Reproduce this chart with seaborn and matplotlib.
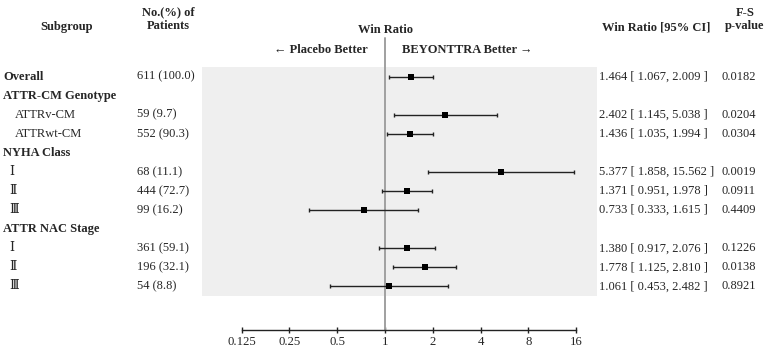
import numpy as np
import pandas as pd
import seaborn as sns
import matplotlib.pyplot as plt
import matplotlib.transforms as mtransforms

subgroups = ["Overall", "ATTR-CM Genotype", "ATTRv-CM", "ATTRwt-CM", "NYHA Class",
             "Ⅰ", "Ⅱ", "Ⅲ", "ATTR NAC Stage", "Ⅰ", "Ⅱ", "Ⅲ"]
is_header = [True, True, False, False, True, False, False, False, True, False, False, False]
patients = ["611 (100.0)", "", "59 (9.7)", "552 (90.3)", "", "68 (11.1)", "444 (72.7)",
            "99 (16.2)", "", "361 (59.1)", "196 (32.1)", "54 (8.8)"]
win_ratio = [1.464, np.nan, 2.402, 1.436, np.nan, 5.377, 1.371, 0.733, np.nan, 1.380, 1.778, 1.061]
ci_low = [1.067, np.nan, 1.145, 1.035, np.nan, 1.858, 0.951, 0.333, np.nan, 0.917, 1.125, 0.453]
ci_high = [2.009, np.nan, 5.038, 1.994, np.nan, 15.562, 1.978, 1.615, np.nan, 2.076, 2.810, 2.482]
p_values = ["0.0182", "", "0.0204", "0.0304", "", "0.0019", "0.0911", "0.4409", "",
            "0.1226", "0.0138", "0.8921"]
ticks = [0.125, 0.25, 0.5, 1, 2, 4, 8, 16]
tick_labels = ["0.125", "0.25", "0.5", "1", "2", "4", "8", "16"]

df = pd.DataFrame({"subgroup": subgroups, "wr": win_ratio, "lo": ci_low, "hi": ci_high,
                   "row": np.arange(len(subgroups))})
pts = df.dropna()

sns.set_style("white")
plt.rcParams["font.family"] = ["Liberation Serif", "DejaVu Serif"]
plt.rcParams["font.size"] = 9

W, H = 769, 352
fig = plt.figure(figsize=(W / 100, H / 100), dpi=100)
ax = fig.add_axes([202 / W, 1 - 296 / H, 395 / W, 229 / H])
ax.set_facecolor("#efefef")

ax.set_xscale("log", base=2)
ax.set_xlim(2 ** -3.828, 2 ** 4.435)
ax.set_ylim(11.5, -0.5)

ax.errorbar(pts["wr"], pts["row"], xerr=[pts["wr"] - pts["lo"], pts["hi"] - pts["wr"]],
            fmt="none", ecolor="#222222", elinewidth=1.0, capsize=1.7, capthick=1.0, zorder=3)
sns.scatterplot(data=pts, x="wr", y="row", marker="s", s=24, color="black",
                edgecolor="black", linewidth=0, ax=ax, zorder=4, legend=False)

# reference line at 1, running above and below the panel
ax.axvline(1, ymin=-34 / 229, ymax=1 + 29 / 229, color="#a0a0a0", lw=1.4,
           clip_on=False, zorder=2)

for s in ["top", "right", "left"]:
    ax.spines[s].set_visible(False)
ax.spines["bottom"].set_position(("outward", 24.5))
ax.spines["bottom"].set_bounds(0.125, 16)
ax.spines["bottom"].set_color("#222222")
ax.spines["bottom"].set_linewidth(1.0)
ax.set_xticks(ticks)
ax.set_xticklabels(tick_labels)
ax.minorticks_off()
ax.tick_params(axis="x", direction="inout", length=5, width=1.0, color="#222222",
               pad=1.5, labelsize=9.2, bottom=True)
ax.set_yticks([])
ax.set_xlabel("")
ax.set_ylabel("")

fx = lambda px: px / W
fy = lambda py: 1 - py / H
row_tr = mtransforms.blended_transform_factory(fig.transFigure, ax.transData)

for i, name in enumerate(subgroups):
    if is_header[i]:
        ax.text(fx(3), i, name, transform=row_tr, ha="left", va="center", fontweight="bold")
    else:
        x0 = 9 if name in ("Ⅰ", "Ⅱ", "Ⅲ") else 15
        ax.text(fx(x0), i, name, transform=row_tr, ha="left", va="center")
    if patients[i]:
        ax.text(fx(137), i, patients[i], transform=row_tr, ha="left", va="center")
    if not np.isnan(win_ratio[i]):
        ax.text(fx(599), i, f"{win_ratio[i]:.3f} [ {ci_low[i]:.3f}, {ci_high[i]:.3f} ]",
                transform=row_tr, ha="left", va="center")
        ax.text(fx(722), i, p_values[i], transform=row_tr, ha="left", va="center")

fig.text(fx(67), fy(27), "Subgroup", ha="center", va="center", fontweight="bold")
fig.text(fx(168), fy(19.5), "No.(%) of\nPatients", ha="center", va="center",
         fontweight="bold", linespacing=1.2)
fig.text(fx(385), fy(30), "Win Ratio", ha="center", va="center", fontweight="bold")
fig.text(fx(368), fy(50), "← Placebo Better", ha="right", va="center", fontweight="bold",
         family=["Liberation Serif", "DejaVu Sans"])
fig.text(fx(402), fy(50), "BEYONTTRA Better →", ha="left", va="center", fontweight="bold",
         family=["Liberation Serif", "DejaVu Sans"])
fig.text(fx(656), fy(27), "Win Ratio [95% CI]", ha="center", va="center", fontweight="bold")
fig.text(fx(745), fy(19.5), "F-S\np-value", ha="center", va="center", fontweight="bold",
         linespacing=1.2)

fig.savefig("out.png", dpi=100)
